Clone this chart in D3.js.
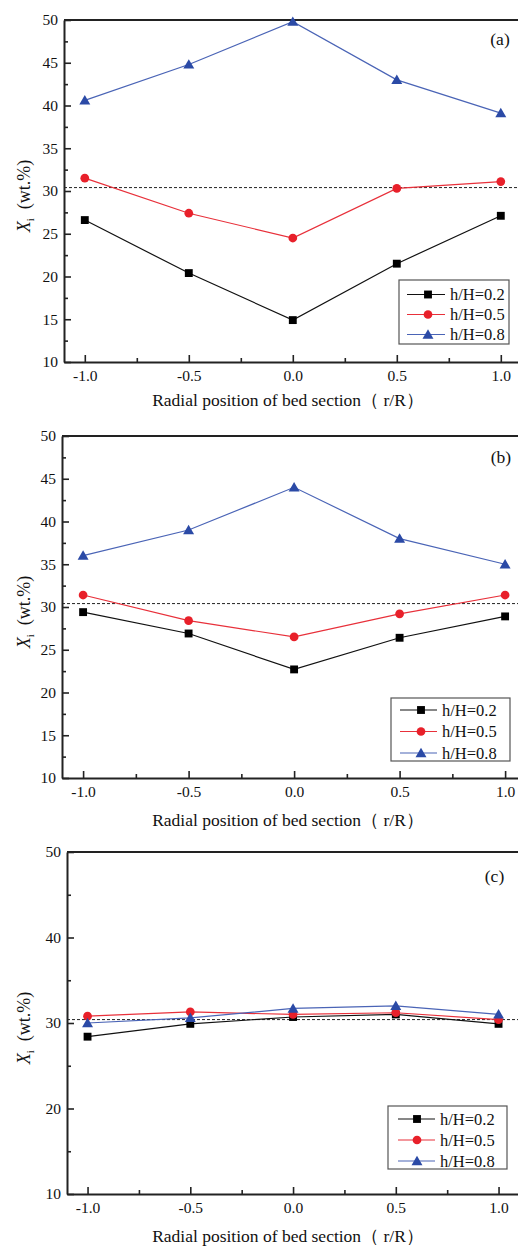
<!DOCTYPE html>
<html><head><meta charset="utf-8">
<script src="https://cdn.jsdelivr.net/npm/d3@7"></script>
<style>
html,body{margin:0;padding:0;background:#fff;}
svg{display:block;}
text{font-family:"Liberation Serif","Times New Roman",serif;fill:#111;}
</style></head>
<body>
<svg id="chart" width="518" height="1246"></svg>
<script>
// ---- data ----
const radialPositions = [-1.0, -0.5, 0.0, 0.5, 1.0];
const seriesNames = ["h/H=0.2", "h/H=0.5", "h/H=0.8"];
const panelLabels = ["(a)", "(b)", "(c)"];
const xTickValues = [-1.0, -0.5, 0.0, 0.5, 1.0];
const referenceLevel = 30.4;

// panel (a)
const a_h02 = [26.6, 20.4, 14.9, 21.5, 27.1];
const a_h05 = [31.5, 27.4, 24.5, 30.3, 31.1];
const a_h08 = [40.6, 44.8, 49.8, 43.0, 39.1];
// panel (b)
const b_h02 = [29.4, 26.9, 22.7, 26.4, 28.9];
const b_h05 = [31.4, 28.4, 26.5, 29.2, 31.4];
const b_h08 = [36.0, 39.0, 44.0, 38.0, 35.0];
// panel (c)
const c_h02 = [28.4, 29.9, 30.7, 31.0, 29.9];
const c_h05 = [30.8, 31.3, 31.0, 31.2, 30.4];
const c_h08 = [30.0, 30.6, 31.7, 32.0, 31.0];

const yTicksAB = [10, 15, 20, 25, 30, 35, 40, 45, 50];
const yTicksC = [10, 20, 30, 40, 50];

// ---- styles ----
const markColors = ["#000000", "#e8202a", "#2b4aa6"];
const lineColors = ["#111111", "#e8303a", "#4a64b6"];
const symbols = [d3.symbolSquare, d3.symbolCircle, d3.symbolTriangle];
const symbolSizes = [62, 60, 52];

const panels = [
  {label: panelLabels[0], data: [a_h02, a_h05, a_h08], yTicks: yTicksAB,
   left: 64, right: 521.6, top: 20, bottom: 362,
   legend: {x0: 399, y0: 280, w: 110, h: 64, rows: [294.5, 314.5, 334.5], l0: 407, l1: 445, mx: 428, tx: 450},
   labelPos: [500, 45], xTitleY: 406},
  {label: panelLabels[1], data: [b_h02, b_h05, b_h08], yTicks: yTicksAB,
   left: 62, right: 526.2, top: 436, bottom: 778,
   legend: {x0: 391, y0: 698, w: 119, h: 63, rows: [710, 731.5, 753], l0: 400, l1: 437, mx: 421, tx: 442},
   labelPos: [501, 463], xTitleY: 826},
  {label: panelLabels[2], data: [c_h02, c_h05, c_h08], yTicks: yTicksC,
   left: 67, right: 519.1, top: 852, bottom: 1194,
   legend: {x0: 388, y0: 1106, w: 119, h: 63, rows: [1119, 1140, 1161], l0: 398, l1: 435, mx: 417, tx: 440},
   labelPos: [494.5, 882], xTitleY: 1242}
];

const svg = d3.select("#chart");

function minorBetween(ticks) {
  const out = [];
  for (let i = 0; i < ticks.length - 1; i++) out.push((ticks[i] + ticks[i + 1]) / 2);
  return out;
}

panels.forEach(p => {
  const g = svg.append("g");
  const x = d3.scaleLinear().domain([-1.1, 1.1]).range([p.left, p.right]);
  const y = d3.scaleLinear().domain([10, 50]).range([p.bottom, p.top]);

  // top border
  g.append("line").attr("x1", p.left).attr("x2", p.right)
    .attr("y1", p.top).attr("y2", p.top)
    .attr("stroke", "#222").attr("stroke-width", 2);

  // x axis major
  const xa = g.append("g").attr("transform", `translate(0,${p.bottom})`)
    .call(d3.axisBottom(x).tickValues(xTickValues).tickSizeInner(-7).tickSizeOuter(0)
      .tickPadding(8).tickFormat(d => d.toFixed(1)));
  const xm = g.append("g").attr("transform", `translate(0,${p.bottom})`)
    .call(d3.axisBottom(x).tickValues(minorBetween(xTickValues)).tickSizeInner(-4).tickSizeOuter(0).tickFormat(""));
  xm.select(".domain").remove();

  // y axis
  const ya = g.append("g").attr("transform", `translate(${p.left},0)`)
    .call(d3.axisLeft(y).tickValues(p.yTicks).tickSizeInner(-7).tickSizeOuter(0)
      .tickPadding(6).tickFormat(d3.format("d")));
  const ym = g.append("g").attr("transform", `translate(${p.left},0)`)
    .call(d3.axisLeft(y).tickValues(minorBetween(p.yTicks)).tickSizeInner(-4).tickSizeOuter(0).tickFormat(""));
  ym.select(".domain").remove();

  [xa, ya].forEach(ax => {
    ax.select(".domain").attr("stroke", "#222").attr("stroke-width", 2);
    ax.selectAll(".tick line").attr("stroke", "#222").attr("stroke-width", 1.6);
    ax.selectAll(".tick text").attr("font-size", 15.5)
      .attr("font-family", "Liberation Serif, serif").attr("fill", "#111");
  });
  [xm, ym].forEach(ax => ax.selectAll(".tick line").attr("stroke", "#222").attr("stroke-width", 1.6));

  // reference dashed line
  g.append("line").attr("x1", p.left).attr("x2", p.right)
    .attr("y1", y(referenceLevel)).attr("y2", y(referenceLevel))
    .attr("stroke", "#222").attr("stroke-width", 1).attr("stroke-dasharray", "3,2");

  // series
  p.data.forEach((vals, si) => {
    const pts = radialPositions.map((r, i) => [r, vals[i]]);
    g.append("path").datum(pts)
      .attr("fill", "none").attr("stroke", lineColors[si]).attr("stroke-width", 1.2)
      .attr("d", d3.line().x(d => x(d[0])).y(d => y(d[1])));
    g.selectAll(null).data(pts).enter().append("path")
      .attr("transform", d => `translate(${x(d[0])},${y(d[1]) + (si === 2 ? 1 : 0)})`)
      .attr("d", d3.symbol().type(symbols[si]).size(symbolSizes[si]))
      .attr("fill", markColors[si]);
  });

  // legend
  const L = p.legend;
  g.append("rect").attr("x", L.x0).attr("y", L.y0).attr("width", L.w).attr("height", L.h)
    .attr("fill", "#fff").attr("stroke", "#555").attr("stroke-width", 1.2);
  seriesNames.forEach((name, si) => {
    const ry = L.rows[si];
    g.append("line").attr("x1", L.l0).attr("x2", L.l1).attr("y1", ry).attr("y2", ry)
      .attr("stroke", lineColors[si]).attr("stroke-width", 1.1);
    g.append("path").attr("transform", `translate(${L.mx},${ry + (si === 2 ? 1 : 0)})`)
      .attr("d", d3.symbol().type(symbols[si]).size(symbolSizes[si]))
      .attr("fill", markColors[si]);
    g.append("text").attr("x", L.tx).attr("y", ry).attr("dy", "0.35em")
      .attr("font-size", 16.5).text(name);
  });

  // panel label
  g.append("text").attr("x", p.labelPos[0]).attr("y", p.labelPos[1])
    .attr("text-anchor", "middle").attr("font-size", 17.5).text(p.label);

  // x title
  g.append("text").attr("x", 288).attr("y", p.xTitleY)
    .attr("text-anchor", "middle").attr("font-size", 17.5)
    .text("Radial position of  bed section\uFF08 r/R\uFF09");

  // y title
  const yt = g.append("text")
    .attr("transform", `translate(30,${(p.top + p.bottom) / 2 + 5}) rotate(-90)`)
    .attr("text-anchor", "middle").attr("font-size", 18);
  yt.append("tspan").attr("font-style", "italic").text("X");
  yt.append("tspan").attr("font-size", 11).attr("dy", 4).text("i");
  yt.append("tspan").attr("dy", -4).text("\u00A0 (wt.%)");
});
</script>
</body></html>
